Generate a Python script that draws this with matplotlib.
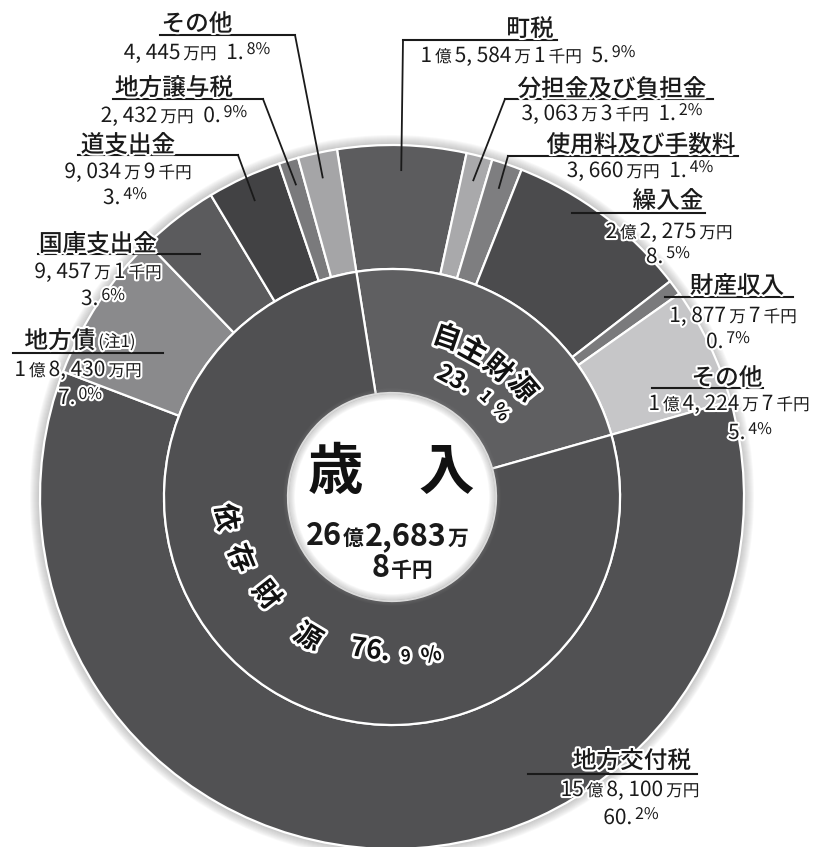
import re
import numpy as np
import matplotlib
matplotlib.use("Agg")
import matplotlib.pyplot as plt
import matplotlib.patheffects as pe
from matplotlib.patches import Circle

plt.rcParams['font.family'] = ['Noto Sans CJK JP', 'DejaVu Sans']

# ---- data ----
inner_names = ["自主財源", "依存財源"]
inner_pct = [23.1, 76.9]
inner_colors = ["#5f5f61", "#505052"]

outer_names = ["町税", "分担金及び負担金", "使用料及び手数料", "繰入金", "財産収入", "その他",
               "地方交付税", "地方債", "国庫支出金", "道支出金", "地方譲与税", "その他"]
outer_pct = [5.9, 1.2, 1.4, 8.5, 0.7, 5.4, 60.2, 7.0, 3.6, 3.4, 0.9, 1.8]
outer_amounts = ["1億5,584万1千円", "3,063万3千円", "3,660万円", "2億2,275万円",
                 "1,877万7千円", "1億4,224万7千円", "15億8,100万円", "1億8,430万円",
                 "9,457万1千円", "9,034万9千円", "2,432万円", "4,445万円"]
outer_colors = ["#5c5c5e", "#a9a9ab", "#7e7e80", "#4b4b4d", "#7a7a7c", "#c6c6c8",
                "#515153", "#8a8a8c", "#5b5b5d", "#424244", "#7a7a7c", "#a5a5a7"]
outer_notes = {7: "(注1)"}

center_title = "歳　入"
total_amount = ["26", "億", "2,683", "万"]
total_amount2 = ["8", "千円"]

# ---- figure ----
W, H = 819, 847
fig = plt.figure(figsize=(W / 100, H / 100), dpi=100)
ax = fig.add_axes([0, 0, 1, 1])
cx, cy = 392, 497
R_out, R_mid, R_hole = 352, 228, 104

# soft shadow around the outer edge
for k in range(1, 11):
    ax.add_patch(Circle((cx, cy), R_out + k, color="#808080", alpha=0.05, lw=0, zorder=0))

wedges_out, _ = ax.pie(outer_pct, radius=R_out, center=(cx, cy), startangle=-99,
                       counterclock=True, colors=outer_colors,
                       wedgeprops=dict(width=R_out - R_mid, edgecolor="white", linewidth=1.6))
wedges_in, _ = ax.pie(inner_pct, radius=R_mid, center=(cx, cy), startangle=-99,
                      counterclock=True, colors=inner_colors,
                      wedgeprops=dict(width=R_mid - R_hole, edgecolor="white", linewidth=1.6))

# white hole with a faint grey rim
ax.add_patch(Circle((cx, cy), R_hole - 1, color="white", lw=0, zorder=3))
for k in range(1, 8):
    ax.add_patch(Circle((cx, cy), R_hole - 1, fill=False, ec="#909090",
                        lw=k * 1.2, alpha=0.06, zorder=3))

ax.set_xlim(0, W)
ax.set_ylim(H, 0)
ax.axis("off")

outline = [pe.withStroke(linewidth=3, foreground="white")]
rend = fig.canvas.get_renderer()

BIG, SMALL, SUP = 15, 12, 11.5


def rich_line(xc, yb, parts, gap=3, effects=outline):
    items = []
    for s, size, rise, weight in parts:
        t = ax.text(0, yb - rise, s, fontsize=size, fontweight=weight, ha="left",
                    va="baseline", color="#1a1a1a", path_effects=effects, zorder=6)
        items.append((t, t.get_window_extent(renderer=rend).width))
    total = sum(w for _, w in items) + gap * (len(items) - 1)
    x = xc - total / 2
    for t, w in items:
        t.set_x(x)
        x += w + gap


def amount_parts(s):
    parts = []
    for tok in re.findall(r"[\d,]+|[^\d,]+", s):
        if tok[0].isdigit():
            parts.append((tok.replace(",", ", "), BIG, 0, "normal"))
        else:
            parts.append((tok, SMALL, 0, "normal"))
    return parts


def pct_parts(p):
    a, b = f"{p:.1f}".split(".")
    return [(a + ".", BIG, 0, "normal"), (b + "%", SUP, 5, "normal")]


# label layout: title centre, underline (x0, x1, y), leader side, value lines
layout = [
    dict(t=(530, 27), ul=(403, 557, 40), lead="left", one=(528, 55)),
    dict(t=(612, 87), ul=(505, 713, 99), lead="left", one=(612, 113)),
    dict(t=(641, 143), ul=(508, 738, 156), lead="left", one=(640, 170)),
    dict(t=(668, 199), ul=(572, 705, 213), lead=None, two=((669, 231), (668, 256))),
    dict(t=(737, 284), ul=(665, 793, 297), lead=None, two=((733, 315), (728, 341))),
    dict(t=(727, 376), ul=(652, 763, 388), lead=None, two=((729, 403), (750, 432))),
    dict(t=(632, 759), ul=(528, 697, 774), lead=None, two=((630, 789), (631, 817))),
    dict(t=(80, 339), ul=(13, 163, 353), lead=None, two=((78, 369), (80, 397))),
    dict(t=(98, 242), ul=(38, 200, 254), lead=None, two=((98, 271), (103, 298))),
    dict(t=(128, 143), ul=(78, 238, 155), lead="right", two=((128, 171), (125, 197))),
    dict(t=(174, 86), ul=(113, 263, 99), lead="right", one=(174, 115)),
    dict(t=(197, 22), ul=(160, 295, 35), lead="right", one=(197, 52)),
]

for i, lay in enumerate(layout):
    tx, ty = lay["t"]
    title = [(outer_names[i], 17, 0, "medium")]
    if i in outer_notes:
        title.append((outer_notes[i], 12, 1, "normal"))
    rich_line(tx, ty + 9, title)
    x0, x1, uy = lay["ul"]
    ax.plot([x0, x1], [uy, uy], color="#1a1a1a", lw=1.5, zorder=5)
    if lay["lead"]:
        w = wedges_out[i]
        th = np.deg2rad((w.theta1 + w.theta2) / 2)
        px = cx + (R_out - 25) * np.cos(th)
        py = cy + (R_out - 25) * np.sin(th)
        sx = x0 if lay["lead"] == "left" else x1
        ax.plot([sx, px], [uy, py], color="#1a1a1a", lw=1.3, zorder=5)
    if "one" in lay:
        vx, vy = lay["one"]
        rich_line(vx, vy + 7, amount_parts(outer_amounts[i]) + [(" ", SMALL, 0, "normal")]
                  + pct_parts(outer_pct[i]))
    else:
        (ax1, ay1), (ax2, ay2) = lay["two"]
        rich_line(ax1, ay1 + 7, amount_parts(outer_amounts[i]))
        rich_line(ax2, ay2 + 7, pct_parts(outer_pct[i]))

# inner ring labels along the arc
arc_fx = [pe.withStroke(linewidth=4, foreground="white")]


def arc_tokens(tokens, top):
    for s, size, ang, r in tokens:
        a = np.deg2rad(ang)
        x = cx + r * np.cos(a)
        y = cy - r * np.sin(a)
        rot = ang - 90 if top else ang + 90
        ax.text(x, y, s, fontsize=size, fontweight="bold", rotation=rot,
                rotation_mode="anchor", ha="center", va="center", color="#111111",
                path_effects=arc_fx, zorder=6)


a1, a2 = f"{inner_pct[0]:.1f}".split(".")
arc_tokens([(inner_names[0][0], 20, 71, 168), (inner_names[0][1], 20, 61, 166),
            (inner_names[0][2], 20, 50.5, 166), (inner_names[0][3], 20, 40, 170),
            (a1 + ".", 17, 62, 133), (a2, 12, 47, 137), ("%", 13, 38, 138)], top=True)
b1, b2 = f"{inner_pct[1]:.1f}".split(".")
arc_tokens([(inner_names[1][0], 20, 187, 168), (inner_names[1][1], 20, 202, 164),
            (inner_names[1][2], 20, 218, 160), (inner_names[1][3], 20, 239, 164),
            (b1 + ".", 19, 262, 155), (b2, 12, 275, 160), ("%", 15, 284, 163)], top=False)

# centre text
ax.text(391, 473, center_title, fontsize=40, fontweight="bold", ha="center",
        va="center", color="#111111", zorder=6)
rich_line(387, 545, [(total_amount[0], 22, 0, "bold"), (total_amount[1], 15, 0, "bold"),
                     (total_amount[2], 22, 0, "bold"), (total_amount[3], 15, 0, "bold")],
          gap=1, effects=None)
rich_line(402, 577, [(total_amount2[0], 22, 0, "bold"), (total_amount2[1], 15, 0, "bold")],
          gap=1, effects=None)

fig.savefig("out.png", dpi=100)
